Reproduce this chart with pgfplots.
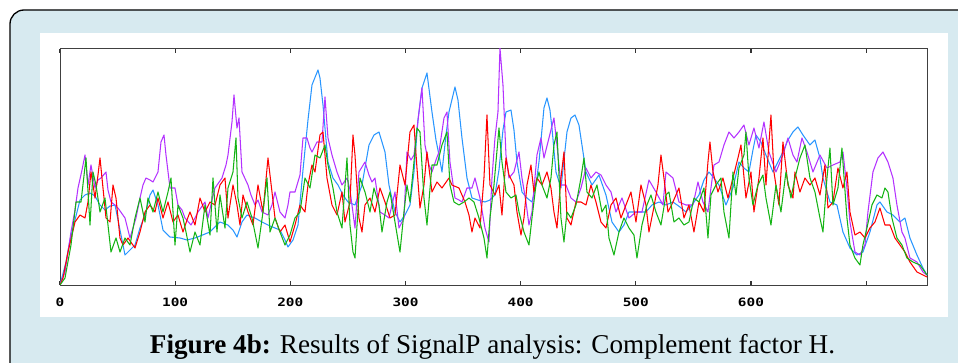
\documentclass[border=0pt]{standalone}
\usepackage{fontspec}
\usepackage{graphicx}
\usepackage{pgfplots}
\pgfplotsset{compat=1.18}
\usepackage{pgfplotstable}
\setmainfont{Liberation Serif}
\setmonofont{DejaVu Sans Mono}
\definecolor{bgblue}{RGB}{215,234,240}
\definecolor{sred}{RGB}{255,0,0}
\definecolor{sgreen}{RGB}{20,180,20}
\definecolor{sblue}{RGB}{40,150,255}
\definecolor{spurple}{RGB}{180,50,255}
\newcommand\tl[1]{\scalebox{1.25}[1]{\fontsize{11.5}{12}\selectfont\ttfamily\bfseries #1}}

\pgfplotstableread{
px py
60 285
66 262
70 240
75 220
80 200
85 195
90 193
95 196
100 205
105 210
110 206
115 205
120 230
125 255
130 250
135 245
140 228
145 215
150 195
153 190
158 205
163 230
170 237
180 238
187 240
195 238
200 236
210 232
220 222
228 225
233 230
237 237
242 222
247 215
255 218
262 222
270 226
280 230
285 240
288 247
293 240
298 225
303 170
308 120
312 85
316 75
318 70
320 78
323 105
328 162
333 178
338 185
343 195
348 202
355 205
362 185
369 145
374 135
379 132
385 152
389 185
395 212
400 222
405 215
410 205
414 172
418 120
422 88
427 73
432 112
436 140
439 155
442 172
446 135
449 112
455 87
458 100
462 138
467 178
472 198
478 200
485 202
490 200
495 195
499 170
503 130
506 112
511 110
514 130
517 162
522 192
527 198
532 202
536 185
539 162
544 108
547 98
550 110
552 128
556 172
561 188
567 132
571 118
575 115
579 125
582 145
586 172
592 185
599 175
606 195
612 222
619 232
624 225
629 212
639 212
646 212
652 205
659 202
666 205
673 202
680 207
686 212
692 205
699 195
704 180
709 172
714 178
719 185
726 205
733 188
739 162
744 168
749 172
753 150
756 135
761 142
766 155
773 172
778 162
783 152
788 140
793 132
798 127
803 135
810 145
815 140
820 158
823 178
830 202
837 205
843 232
850 248
857 255
863 252
870 232
877 205
880 202
887 212
893 215
900 222
905 218
910 238
917 255
923 268
927 275
}\blueT

\pgfplotstableread{
px py
60 285
65 272
71 232
75 210
78 188
82 170
85 155
88 185
91 165
95 188
98 180
101 178
106 172
108 190
111 202
115 205
118 208
125 218
130 238
133 228
136 218
140 198
143 185
146 178
150 180
153 182
158 172
161 142
164 135
166 155
170 188
175 188
178 205
182 210
185 218
191 225
195 218
198 212
205 202
208 218
212 200
215 188
222 178
226 165
228 155
232 122
234 95
237 128
239 118
242 172
248 185
251 195
255 205
258 200
262 212
268 215
272 205
275 192
280 212
285 218
288 205
290 192
295 192
300 175
303 138
307 138
310 148
312 152
317 142
322 142
325 97
328 138
332 155
337 172
342 185
347 178
350 190
352 205
355 228
357 200
359 172
365 162
369 175
372 182
375 178
380 212
385 215
389 218
392 205
395 192
399 228
404 218
407 152
411 160
414 155
419 112
422 88
425 145
429 165
432 172
436 160
439 152
444 118
447 112
450 162
455 198
459 200
462 202
467 188
472 188
475 178
480 198
485 228
489 242
492 178
495 138
498 112
500 48
503 85
506 155
509 178
514 172
519 152
522 178
526 202
529 225
532 212
537 155
541 138
544 158
549 138
554 118
557 145
561 185
566 185
571 198
576 202
581 188
586 168
591 178
596 172
601 175
606 185
611 192
616 212
622 198
629 218
636 212
642 212
649 180
656 192
663 205
666 172
673 178
679 202
686 205
693 205
698 182
703 202
708 212
711 188
714 165
719 162
724 145
729 132
734 138
739 132
744 125
749 145
754 128
759 148
764 122
769 152
776 172
783 155
788 138
793 155
797 162
802 138
807 152
813 172
820 155
827 168
833 165
840 162
843 152
847 188
850 222
855 252
860 255
865 245
868 212
873 172
878 158
883 152
888 162
893 178
897 205
902 232
905 238
910 258
917 262
923 272
927 275
}\purpleT

\pgfplotstableread{
px py
60 285
63 278
68 252
72 235
75 222
80 215
85 218
88 202
91 172
95 198
98 175
100 158
103 188
106 218
110 222
113 185
116 198
120 238
123 245
128 238
135 248
140 232
145 212
150 205
155 212
158 198
163 218
168 202
173 222
178 215
183 232
187 220
190 212
195 225
200 198
205 212
210 202
215 205
220 185
225 178
228 218
233 185
237 205
240 225
243 195
248 212
253 225
258 185
263 212
268 158
272 192
275 218
280 232
285 225
290 242
295 225
300 205
305 212
308 185
312 165
315 172
320 135
323 132
327 178
332 205
337 215
342 192
345 222
350 202
353 135
355 155
359 218
362 232
365 205
370 198
375 212
380 188
385 202
390 218
395 215
400 165
405 185
410 132
414 125
417 168
420 208
424 185
427 152
432 192
437 182
442 188
449 178
452 185
459 188
465 202
469 215
472 232
475 218
480 228
484 178
487 115
490 185
495 195
499 185
502 215
506 158
509 175
514 185
517 212
521 235
524 218
527 185
531 165
534 192
537 178
542 185
547 172
551 188
554 212
557 228
561 178
564 152
567 218
571 225
576 202
581 202
586 205
591 185
596 202
601 222
606 228
611 205
616 198
621 218
626 205
631 192
636 222
641 185
646 205
649 232
653 212
658 185
661 155
664 178
668 212
673 202
679 188
684 218
689 205
694 232
699 202
704 212
708 162
710 142
713 172
718 192
723 178
728 198
733 178
738 158
741 145
746 198
751 172
754 212
759 178
763 138
766 185
771 115
774 172
779 205
783 142
788 185
793 198
795 172
800 192
805 178
810 185
815 178
820 195
825 165
828 208
833 202
838 168
843 188
847 172
850 212
855 235
860 232
865 238
870 228
875 222
880 208
885 225
890 225
895 238
900 245
905 252
910 262
917 272
923 275
927 277
}\redT

\pgfplotstableread{
px py
60 285
65 278
71 245
76 202
81 202
86 158
90 225
93 172
96 185
100 212
105 198
108 225
111 252
116 238
120 252
125 238
130 245
135 218
140 198
145 222
148 198
153 212
158 192
163 212
168 192
171 178
175 245
178 205
183 218
186 232
190 252
195 232
200 245
205 205
210 235
213 178
217 232
220 195
225 228
228 188
233 172
236 138
238 198
242 218
247 202
252 218
258 248
263 212
267 178
270 232
275 218
280 232
285 245
290 235
295 218
300 212
305 178
310 188
315 155
320 158
325 145
328 165
333 188
337 212
342 228
347 158
350 225
353 252
355 258
360 178
365 192
370 212
374 188
379 205
382 232
387 202
390 192
395 222
400 252
404 212
407 185
410 202
414 162
417 128
420 132
424 198
427 225
432 165
437 165
442 145
447 132
450 185
454 202
459 205
464 202
469 198
474 202
479 218
484 238
487 258
490 218
494 185
499 128
502 162
506 192
511 198
516 195
519 212
524 232
529 245
532 218
536 185
539 172
542 185
547 198
551 178
554 145
557 132
561 218
564 242
567 212
571 218
576 205
581 178
584 158
587 192
592 198
597 185
602 212
606 205
609 238
614 255
619 232
624 218
629 228
634 235
637 258
642 225
647 205
651 195
656 212
661 225
666 195
669 192
674 222
679 218
684 225
689 222
694 198
699 202
704 188
708 238
711 195
716 185
721 178
724 212
729 238
733 172
736 195
739 168
744 155
746 132
749 178
753 205
758 185
763 175
766 198
771 225
776 185
781 212
786 172
791 198
795 178
800 158
805 145
810 178
815 192
820 218
823 232
827 178
830 148
833 205
838 188
842 148
847 218
850 245
855 258
860 265
863 245
867 228
872 205
877 195
882 198
885 188
888 192
892 218
897 238
902 245
907 258
913 262
920 265
925 272
927 275
}\greenT

\begin{document}
\begin{tikzpicture}[x=1pt,y=1pt]
\useasboundingbox (0,0) rectangle (958,362);
\fill[white] (0,0) rectangle (958,362);
\begin{scope}
\clip (0,0) rectangle (958,362);
\filldraw[fill=bgblue, draw=black, line width=1.3pt, rounded corners=14pt] (10,-30) rectangle (990,352);
\end{scope}
\fill[white] (40,45) rectangle (948,329);
\begin{axis}[
  at={(60pt,77pt)}, anchor=south west,
  scale only axis, width=867.5pt, height=236pt,
  xmin=0, xmax=753.3, ymin=0, ymax=236,
  axis line style={black!75, line width=1pt},
  ytick=\empty,
  xtick={0,100,200,300,400,500,600,700},
  xticklabels={\tl{0},\tl{100},\tl{200},\tl{300},\tl{400},\tl{500},\tl{600},{}},
  tick align=inside,
  major tick length=4pt,
  tick style={black!80, line width=1.2pt},
  xticklabel style={anchor=base, yshift=-21.5pt},
  every axis plot/.append style={line width=1.05pt, line join=round},
]
\addplot[sblue, no markers] table[x expr={(\thisrow{px}-60)/1.1517}, y expr={285-\thisrow{py}}] {\blueT};
\addplot[spurple, no markers] table[x expr={(\thisrow{px}-60)/1.1517}, y expr={285-\thisrow{py}}] {\purpleT};
\addplot[sred, no markers] table[x expr={(\thisrow{px}-60)/1.1517}, y expr={285-\thisrow{py}}] {\redT};
\addplot[sgreen, no markers] table[x expr={(\thisrow{px}-60)/1.1517}, y expr={285-\thisrow{py}}] {\greenT};
\end{axis}
\node[anchor=base, inner sep=0pt] at (492.5,9) {\resizebox{685pt}{!}{\fontsize{26}{30}\selectfont\textbf{Figure 4b:} Results of SignalP analysis: Complement factor H.}};
\end{tikzpicture}
\end{document}
